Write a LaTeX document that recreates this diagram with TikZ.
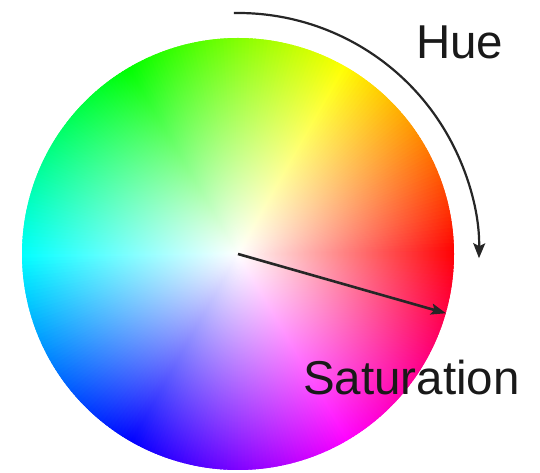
\documentclass[tikz,border=0pt]{standalone}
\usepackage{fontspec}
\setmainfont{Liberation Sans}
\usetikzlibrary{arrows.meta,fadings}
\tikzfading[name=wfade, inner color=transparent!0, outer color=transparent!100]
\tikzset{
  lbl/.style={inner sep=0pt, anchor=base west, text=black!90, font=\fontsize{47.5}{52}\selectfont},
  huearrow/.style={line width=2.2pt, draw=black!85, -{Stealth[length=15pt,width=12pt,inset=3pt]}},
  satarrow/.style={line width=2.6pt, draw=black!85, -{Stealth[length=15pt,width=11pt,inset=3pt]}, shorten >=-1pt}
}
\begin{document}
\begin{tikzpicture}[x=1pt,y=1pt]
  \fill[white] (0,0) rectangle (540,473);
  \useasboundingbox (0,0) rectangle (540,473);
  \coordinate (C) at (238,219);
  % hue wheel
  \foreach \a in {0,1,...,359}{
    \definecolor{hc}{Hsb}{\a,1,1}
    \fill[hc] (C) -- ([shift={(\a:216)}]C) arc[start angle=\a, end angle=\a+1.8, radius=216] -- cycle;
  }
  \fill[white, path fading=wfade] (C) circle (216);
  % arrows
  \coordinate (hs) at ([shift={(91:241)}]C);
  \coordinate (se) at (445,160);
  \draw[huearrow] (hs) arc[start angle=91, end angle=-1, radius=241] coordinate (he);
  \draw[satarrow] (C) -- (se);
  % labels
  \node[lbl] (hue) at (416,414) {Hue};
  \node[lbl] (sat) at (303,78) {Saturation};
\end{tikzpicture}
\end{document}
